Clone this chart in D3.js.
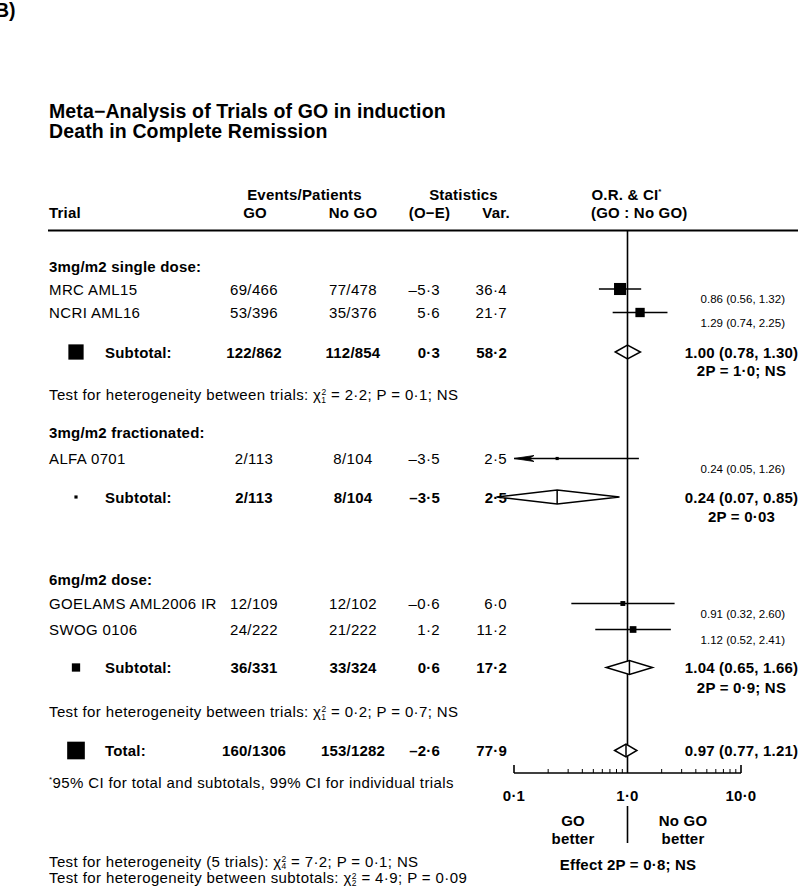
<!DOCTYPE html>
<html>
<head>
<meta charset="utf-8">
<script src="https://cdn.jsdelivr.net/npm/d3@7"></script>
<style>
  html, body { margin: 0; padding: 0; background: #fff; }
  svg { display: block; }
  text { font-family: "Liberation Sans", Arial, Helvetica, sans-serif; fill: #000; }
  .b { font-weight: bold; }
</style>
</head>
<body>
<svg id="chart" width="800" height="890"></svg>
<script>
// ---------------- DATA ----------------
const groupLabels = ["3mg/m2 single dose:", "3mg/m2 fractionated:", "6mg/m2 dose:"];
const trialGroup  = [0, 0, 1, 2, 2];
const trialNames  = ["MRC AML15", "NCRI AML16", "ALFA 0701", "GOELAMS AML2006 IR", "SWOG 0106"];
const trialGO     = ["69/466", "53/396", "2/113", "12/109", "24/222"];
const trialNoGO   = ["77/478", "35/376", "8/104", "12/102", "21/222"];
const trialOE     = ["–5·3", "5·6", "–3·5", "–0·6", "1·2"];
const trialVar    = [36.4, 21.7, 2.5, 6.0, 11.2];
const trialOR     = [0.86, 1.29, 0.24, 0.91, 1.12];
const trialLo     = [0.56, 0.74, 0.05, 0.32, 0.52];
const trialHi     = [1.32, 2.25, 1.26, 2.60, 2.41];

const subGO   = ["122/862", "2/113", "36/331"];
const subNoGO = ["112/854", "8/104", "33/324"];
const subOE   = ["0·3", "–3·5", "0·6"];
const subVar  = [58.2, 2.5, 17.2];
const subOR   = [1.00, 0.24, 1.04];
const subLo   = [0.78, 0.07, 0.65];
const subHi   = [1.30, 0.85, 1.66];
const subP    = ["2P = 1·0; NS", "2P = 0·03", "2P = 0·9; NS"];

const totGO = "160/1306", totNoGO = "153/1282", totOE = "–2·6", totVar = 77.9;
const totOR = 0.97, totLo = 0.77, totHi = 1.21;

const hetTrials = [ {chi: "1", val: "2·2", p: "0·1; NS"}, null, {chi: "1", val: "0·2", p: "0·7; NS"} ];
const axisTicks = [0.1, 1, 10];
const axisTickLabels = ["0·1", "1·0", "10·0"];

// ---------------- LAYOUT ----------------
const svg = d3.select("#chart");
const x = d3.scaleLog().domain([0.1, 10]).range([514, 741]);

// row baselines by key (layout only)
const rowKeys = ["g0","t0","t1","s0","p0","h0","g1","t2","s1","p1","g2","t3","t4","s2","p2","h2","tot","foot"];
const rowBase = [272, 294.5, 318, 357.5, 376, 400, 438, 464, 502.5, 522, 585, 609, 635, 673, 693, 717, 756, 788];
const y = d3.scaleOrdinal().domain(rowKeys).range(rowBase);
const mid = k => y(k) - 5.5;

const colTrial = 49, colGO = 254, colNoGO = 353, colOE = 440, colVar = 507;
const colBox = 76, colSub = 105, colCIsmall = 785, colCIbold = 741.5;
const FS = 15;
const LS_REG = 0.38, LS_BOLD = 0.2;

function txt(xp, yp, s, opts = {}) {
  const t = svg.append("text").attr("x", xp).attr("y", yp).text(s)
    .attr("font-size", opts.size || FS)
    .attr("text-anchor", opts.anchor || "start");
  if (opts.bold) t.attr("class", "b");
  const ls = opts.ls !== undefined ? opts.ls : (opts.size ? 0 : (opts.bold ? LS_BOLD : LS_REG));
  if (ls) t.attr("letter-spacing", ls);
  return t;
}
const fmtVar = v => v.toFixed(1).replace(".", "·");
const fmtCI = (o, l, h) => `${o.toFixed(2)} (${l.toFixed(2)}, ${h.toFixed(2)})`;

function chiText(xp, yp, pre, sub, post, opts = {}) {
  const up = opts.up || 5.5, down = opts.down || 8.5;
  const t = svg.append("text").attr("x", xp).attr("y", yp)
    .attr("font-size", opts.size || FS)
    .attr("letter-spacing", opts.ls !== undefined ? opts.ls : LS_REG);
  t.append("tspan").text(pre + "χ");
  t.append("tspan").attr("font-size", 8.5).attr("dy", -up).text("2");
  t.append("tspan").attr("font-size", 8.5).attr("dx", -5.2).attr("dy", down).text(sub);
  t.append("tspan").attr("dy", up - down).text(" = " + post);
  return t;
}

// ---------------- TITLE / HEADER ----------------
txt(-5, 17, "B)", {bold: true, size: 19.5});
txt(49, 118.3, "Meta−Analysis of Trials of GO in induction", {bold: true, size: 19.5, ls: 0.12});
txt(49, 138.3, "Death in Complete Remission", {bold: true, size: 19.5, ls: 0.12});

txt(304.5, 199.5, "Events/Patients", {bold: true, anchor: "middle"});
txt(463.5, 199.5, "Statistics", {bold: true, anchor: "middle"});
const orh = txt(591.5, 199.5, "O.R. & CI", {bold: true});
orh.append("tspan").attr("font-size", 8).attr("dy", -6).text("*");
txt(colTrial, 218, "Trial", {bold: true});
txt(255, 218, "GO", {bold: true, anchor: "middle"});
txt(353, 218, "No GO", {bold: true, anchor: "middle"});
txt(429.5, 218, "(O−E)", {bold: true, anchor: "middle"});
txt(496, 218, "Var.", {bold: true, anchor: "middle"});
txt(591, 218, "(GO : No GO)", {bold: true});

svg.append("line").attr("x1", 48).attr("x2", 798).attr("y1", 230.5).attr("y2", 230.5)
  .attr("stroke", "#000").attr("stroke-width", 2);

// reference line at OR = 1
svg.append("line").attr("x1", x(1)).attr("x2", x(1)).attr("y1", 230.5).attr("y2", 773)
  .attr("stroke", "#000").attr("stroke-width", 1.6);

// ---------------- GROUP LABELS ----------------
groupLabels.forEach((g, i) => txt(colTrial, y("g" + i), g, {bold: true}));

// ---------------- TRIALS ----------------
const xmin = x.domain()[0];
trialNames.forEach((name, i) => {
  const k = "t" + i, yb = y(k), ym = mid(k);
  txt(colTrial, yb, name);
  txt(colGO, yb, trialGO[i], {anchor: "middle"});
  txt(colNoGO, yb, trialNoGO[i], {anchor: "middle"});
  txt(colOE, yb, trialOE[i], {anchor: "end"});
  txt(colVar, yb, fmtVar(trialVar[i]), {anchor: "end"});
  const lo = Math.max(trialLo[i], xmin);
  svg.append("line").attr("x1", x(lo)).attr("x2", x(trialHi[i])).attr("y1", ym).attr("y2", ym)
    .attr("stroke", "#000").attr("stroke-width", 1.6);
  if (trialLo[i] < xmin) {
    const tx = x(xmin);
    svg.append("path")
      .attr("d", `M${tx},${ym} L${tx + 20},${ym - 3} L${tx + 15},${ym} L${tx + 20},${ym + 3} Z`)
      .attr("fill", "#000").attr("stroke", "#000").attr("stroke-width", 0.8);
  }
  const s = 2 * Math.sqrt(trialVar[i]);
  svg.append("rect").attr("x", x(trialOR[i]) - s / 2).attr("y", ym - s / 2)
    .attr("width", s).attr("height", s).attr("fill", "#000");
  txt(colCIsmall, yb + 8.5, fmtCI(trialOR[i], trialLo[i], trialHi[i]), {anchor: "end", size: 11.5});
});

// ---------------- SUBTOTALS / TOTAL ----------------
function summaryRow(k, label, go, nogo, oe, v, o, lo, hi, hh) {
  const yb = y(k), ym = mid(k);
  const s = 2 * Math.sqrt(v);
  svg.append("rect").attr("x", colBox - s / 2).attr("y", ym - s / 2)
    .attr("width", s).attr("height", s).attr("fill", "#000");
  txt(colSub, yb, label, {bold: true});
  txt(colGO, yb, go, {bold: true, anchor: "middle"});
  txt(colNoGO, yb, nogo, {bold: true, anchor: "middle"});
  txt(colOE, yb, oe, {bold: true, anchor: "end"});
  txt(colVar, yb, fmtVar(v), {bold: true, anchor: "end"});
  svg.append("path")
    .attr("d", `M${x(lo)},${ym} L${x(o)},${ym - hh} L${x(hi)},${ym} L${x(o)},${ym + hh} Z`)
    .attr("fill", "#fff").attr("stroke", "#000").attr("stroke-width", 1.5);
  svg.append("line").attr("x1", x(o)).attr("x2", x(o)).attr("y1", ym - hh).attr("y2", ym + hh)
    .attr("stroke", "#000").attr("stroke-width", 1.5);
  txt(colCIbold, yb, fmtCI(o, lo, hi), {bold: true, anchor: "middle"});
}
subOR.forEach((o, i) => {
  summaryRow("s" + i, "Subtotal:", subGO[i], subNoGO[i], subOE[i], subVar[i], o, subLo[i], subHi[i], 7);
  txt(colCIbold, y("p" + i), subP[i], {bold: true, anchor: "middle"});
});
summaryRow("tot", "Total:", totGO, totNoGO, totOE, totVar, totOR, totLo, totHi, 6.5);

// heterogeneity between trials
hetTrials.forEach((h, i) => {
  if (!h) return;
  chiText(colTrial, y("h" + i), "Test for heterogeneity between trials: ", h.chi, `${h.val}; P = ${h.p}`);
});

// footnote
const fn = svg.append("text").attr("x", colTrial).attr("y", y("foot")).attr("font-size", FS)
  .attr("letter-spacing", LS_REG);
fn.append("tspan").attr("font-size", 8).attr("dy", -6).text("*");
fn.append("tspan").attr("dy", 6).text("95% CI for total and subtotals, 99% CI for individual trials");

// ---------------- AXIS ----------------
const axisY = 773;
svg.append("line").attr("x1", x(0.1)).attr("x2", x(10)).attr("y1", axisY).attr("y2", axisY)
  .attr("stroke", "#000").attr("stroke-width", 1.6);
const minor = x.ticks().filter(t => axisTicks.indexOf(t) < 0);
svg.selectAll(".minor").data(minor).enter().append("line")
  .attr("x1", d => x(d)).attr("x2", d => x(d)).attr("y1", axisY).attr("y2", axisY - 4)
  .attr("stroke", "#000").attr("stroke-width", 1);
svg.selectAll(".major").data(axisTicks.filter(t => t !== 1)).enter().append("line")
  .attr("x1", d => x(d)).attr("x2", d => x(d)).attr("y1", axisY).attr("y2", axisY - 8)
  .attr("stroke", "#000").attr("stroke-width", 1.6);
axisTicks.forEach((t, i) => txt(x(t), 800.5, axisTickLabels[i], {bold: true, anchor: "middle"}));

txt(573, 826, "GO", {bold: true, anchor: "middle"});
txt(573, 844, "better", {bold: true, anchor: "middle"});
txt(683, 826, "No GO", {bold: true, anchor: "middle"});
txt(683, 844, "better", {bold: true, anchor: "middle"});
svg.append("line").attr("x1", x(1)).attr("x2", x(1)).attr("y1", 806).attr("y2", 843)
  .attr("stroke", "#000").attr("stroke-width", 1.6);
txt(628, 870, "Effect 2P = 0·8; NS", {bold: true, anchor: "middle"});

// bottom heterogeneity
chiText(colTrial, 866.7, "Test for heterogeneity (5 trials): ", "4", "7·2; P = 0·1; NS", {up: 5, down: 7});
chiText(colTrial, 883.3, "Test for heterogeneity between subtotals: ", "2", "4·9; P = 0·09", {ls: 0.4, up: 4.5, down: 7.5});
</script>
</body>
</html>
